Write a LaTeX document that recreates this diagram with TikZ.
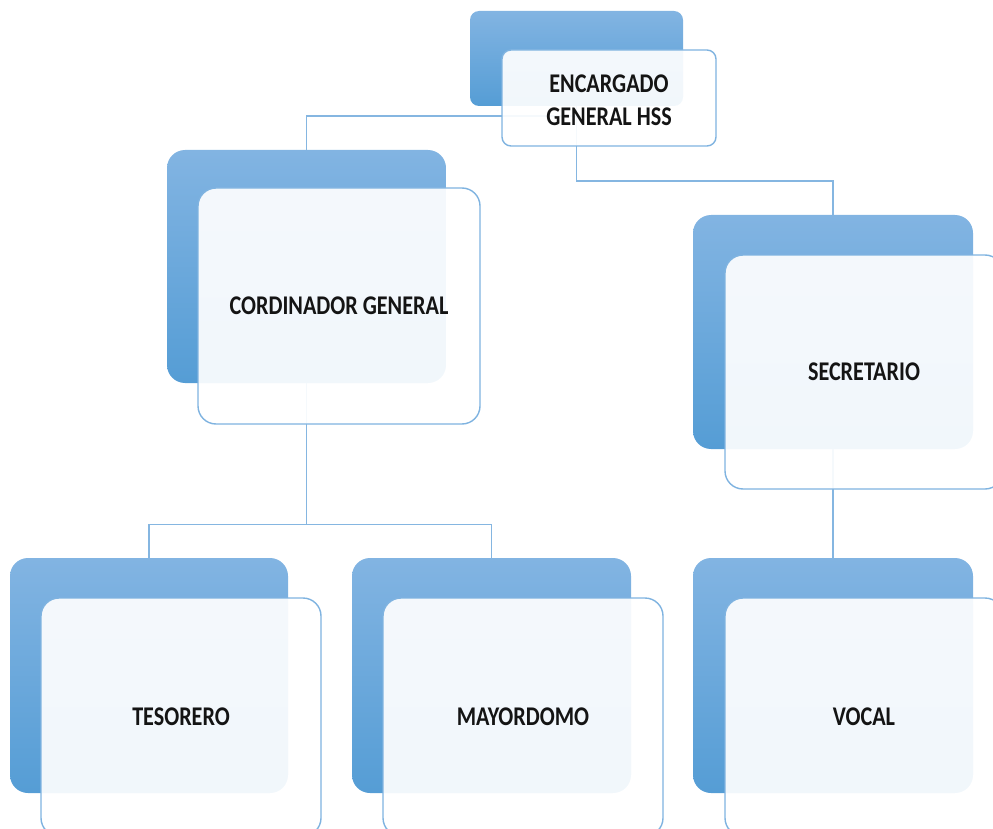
\documentclass[tikz,border=0pt]{standalone}
\usepackage{fontspec}
\setmainfont{Carlito}
\usetikzlibrary{shadings}
\definecolor{bluetop}{HTML}{82B4E2}
\definecolor{bluebot}{HTML}{559DD5}
\definecolor{edgeblue}{HTML}{7FB3E0}
\definecolor{linkblue}{HTML}{85B6E1}
\newcommand{\lbl}[1]{\scalebox{0.82}[1]{#1}}
\newcommand{\lowlbl}[1]{\raisebox{-2pt}[\height][\depth]{\lbl{#1}}}
\begin{document}
\begin{tikzpicture}[x=1pt,y=-1pt,
  backbox/.style={rectangle, rounded corners=18pt, inner sep=0pt, top color=bluetop, bottom color=bluebot, draw=none},
  frontbox/.style={rectangle, rounded corners=18pt, inner sep=0pt, draw=edgeblue, line width=1.4pt, fill=white, fill opacity=0.92, text opacity=1, font=\fontsize{27}{33}\selectfont\bfseries, text=black!92, align=center},
  link/.style={draw=linkblue, line width=1.4pt}]
\useasboundingbox (0,0) rectangle (993,829);
\clip (0,0) rectangle (993,829);
% back boxes
\node[backbox, rounded corners=9pt, minimum width=213pt, minimum height=95pt] (topb) at (576.5,58.5) {};
\node[backbox, minimum width=279pt, minimum height=233pt] (coordb) at (306.5,266.5) {};
\node[backbox, minimum width=280pt, minimum height=234pt] (secb) at (833,332) {};
\node[backbox, minimum width=278pt, minimum height=235pt] (tesb) at (149,675.5) {};
\node[backbox, minimum width=279pt, minimum height=235pt] (mayb) at (491.5,675.5) {};
\node[backbox, minimum width=280pt, minimum height=235pt] (vocb) at (833,675.5) {};
% links
\draw[link] ([yshift=-10pt]topb.south) -| (coordb.north);
\draw[link] (topb.south) -- ++(0pt,-75pt) -| (secb.north);
\draw[link] (coordb.south) -- ++(0pt,-141pt) coordinate (cj);
\draw[link] (tesb.north) |- (cj) -| (mayb.north);
\draw[link] (secb.south) -- (vocb.north);
% front boxes
\node[frontbox, rounded corners=9pt, minimum width=214pt, minimum height=96pt] (topw) at (609,98) {\lowlbl{ENCARGADO}\\\lowlbl{GENERAL HSS}};
\node[frontbox, minimum width=282pt, minimum height=236pt] (coordw) at (339,306) {\lbl{CORDINADOR GENERAL}};
\node[frontbox, minimum width=278pt, minimum height=234pt] (secw) at (864,372) {\lbl{SECRETARIO}};
\node[frontbox, minimum width=280pt, minimum height=238pt] (tesw) at (181,717) {\lbl{TESORERO}};
\node[frontbox, minimum width=280pt, minimum height=238pt] (mayw) at (523,717) {\lbl{MAYORDOMO}};
\node[frontbox, minimum width=278pt, minimum height=238pt] (vocw) at (864,717) {\lbl{VOCAL}};
\end{tikzpicture}
\end{document}
